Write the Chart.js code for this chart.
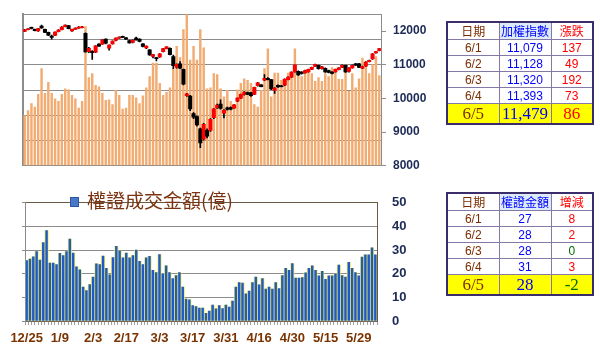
<!DOCTYPE html>
<html lang="zh-Hant">
<head>
<meta charset="UTF-8">
<title>加權指數與權證成交金額</title>
<script src="https://cdn.jsdelivr.net/npm/chart.js@4.4.0/dist/chart.umd.min.js"></script>
<style>
  body { margin:0; background:#fff; }
  #page { position:relative; width:600px; height:353px; overflow:hidden; font-family:"Liberation Sans", Arial, sans-serif; }
  canvas { position:absolute; left:0; }
  #cHaut { top:0; }
  #cBas { top:180px; }
  .tab { position:absolute; left:446px; width:146px; border-collapse:collapse; border:2px solid #3b2d6b; table-layout:fixed; }
  .tab td { border:1px solid #8478a6; padding:0; text-align:center; vertical-align:middle; font-size:12px; line-height:12px; white-space:nowrap; overflow:hidden; }
  .tab tr.tete td { font-family:"Noto Sans CJK TC", sans-serif; font-size:12px; height:16px; }
  .tab tr.ligne td { height:15px; }
  .tab tr.jaune td { background:#ffff00; height:19px; font-family:"Liberation Serif", serif; font-size:17px; line-height:17px; }
  .date { color:#7a2c00; }
  .bleu { color:#0000ff; }
  .rouge { color:#ff0000; }
  .vert { color:#006a00; }
  .fondBleu { background:#dcebf8; }
  #legende { position:absolute; left:70px; top:189px; height:22px; font-family:"Noto Sans CJK TC", sans-serif; font-size:19px; color:#7b3412; line-height:22px; white-space:nowrap; }
  #legende .carre { display:inline-block; width:7px; height:8px; background:#4a78c8; border:1px solid #2c56a4; margin-right:8px; vertical-align:middle; position:relative; top:-1px; }
</style>
</head>
<body>
<div id="page">
  <canvas id="cHaut" width="600" height="180" style="width:600px;height:180px"></canvas>
  <canvas id="cBas" width="600" height="173" style="width:600px;height:173px"></canvas>
  <div id="legende"><span class="carre"></span>權證成交金額(億)</div>
  <table class="tab" id="tab1" style="top:21px"></table>
  <table class="tab" id="tab2" style="top:192px"></table>
</div>

<script>
// trading days 2019/12/25 - 2020/6/5
const dates = ['12/25','12/26','12/27','12/30','12/31',
  '1/2','1/3','1/6','1/7','1/8','1/9','1/10','1/13','1/14','1/15','1/16','1/17','1/20','1/30','1/31',
  '2/3','2/4','2/5','2/6','2/7','2/10','2/11','2/12','2/13','2/14','2/17','2/18','2/19','2/20','2/21','2/24','2/25','2/26','2/27',
  '3/2','3/3','3/4','3/5','3/6','3/9','3/10','3/11','3/12','3/13','3/16','3/17','3/18','3/19','3/20','3/23','3/24','3/25','3/26','3/27','3/30','3/31',
  '4/1','4/6','4/7','4/8','4/9','4/10','4/13','4/14','4/15','4/16','4/17','4/20','4/21','4/22','4/23','4/24','4/27','4/28','4/29','4/30',
  '5/4','5/5','5/6','5/7','5/8','5/11','5/12','5/13','5/14','5/15','5/18','5/19','5/20','5/21','5/22','5/25','5/26','5/27','5/28','5/29',
  '6/1','6/2','6/3','6/4','6/5'];

// 加權指數 K線
const ouverture = [11990,12040,12110,12050,12000,12150,12050,11960,11850,11870,
  11980,12040,12130,12160,12000,12050,12085,12100,11930,11390,
  11400,11370,11610,11610,11760,11490,11620,11720,11790,11840,
  11800,11720,11660,11790,11760,11620,11500,11440,11250,11210,
  11230,11390,11480,11490,11240,10920,11030,10860,10080,10070,
  9550,9460,9100,8790,9050,9050,9430,9720,9830,9560,
  9720,9730,9710,9920,10010,10120,10175,10175,10120,10375,
  10400,10540,10600,10560,10240,10390,10375,10390,10560,10630,
  10785,10805,10785,10760,10785,10860,10950,10985,10880,10895,
  10830,10785,10785,10850,10920,10985,10800,10905,11030,11030,
  10900,10960,11090,11170,11350,11420];
const haut = [12050,12075,12120,12060,12080,12180,12060,11970,11880,11975,
  12040,12130,12185,12170,12060,12095,12130,12140,11950,11520,
  11420,11570,11630,11750,11770,11590,11710,11800,11830,11850,
  11815,11730,11740,11820,11770,11630,11560,11450,11310,11220,
  11330,11490,11540,11500,11290,11030,11090,10870,10150,10090,
  9580,9480,9120,9260,9100,9400,9700,9830,9960,9670,
  9740,9750,9820,10020,10130,10200,10190,10180,10340,10480,
  10410,10710,10620,10570,10320,10400,10390,10580,10640,10790,
  11000,10820,10800,10840,10870,10930,11020,10990,10950,10910,
  10840,10800,10870,10915,10995,10990,10915,10995,11040,11040,
  10960,11090,11140,11330,11400,11490];
const bas = [11980,12030,12065,12000,11990,12080,11950,11860,11760,11860,
  11975,12035,12125,12060,11990,12045,12080,12090,11370,11360,
  11160,11360,11540,11600,11620,11430,11610,11710,11780,11800,
  11750,11640,11650,11730,11680,11530,11480,11280,11200,11110,
  11220,11380,11470,11290,10880,10900,10880,10400,10060,9640,
  9400,9180,8540,8760,8830,9020,9400,9700,9680,9420,
  9650,9660,9700,9900,10000,10100,10110,10060,10110,10360,
  10340,10530,10550,10260,10150,10330,10340,10380,10550,10620,
  10780,10680,10720,10750,10780,10850,10940,10870,10870,10770,
  10760,10730,10780,10845,10915,10770,10780,10900,10975,10910,
  10880,10950,11080,11160,11340,11410];
const cloture = [12035,12065,12075,12010,12075,12090,11960,11880,11810,11970,
  12030,12120,12180,12070,12050,12085,12120,12125,11380,11490,
  11360,11560,11550,11740,11640,11580,11700,11790,11820,11810,
  11760,11650,11730,11740,11690,11540,11550,11290,11300,11180,
  11320,11480,11530,11300,10970,11010,10900,10420,10140,9690,
  9440,9210,8680,9230,8880,9380,9690,9800,9700,9650,
  9670,9680,9810,10010,10120,10190,10120,10080,10330,10465,
  10350,10600,10560,10280,10310,10340,10350,10575,10630,10785,
  10995,10695,10740,10830,10860,10920,11015,10880,10940,10785,
  10770,10740,10860,10905,10985,10785,10905,10985,10985,10920,
  10942,11079,11128,11320,11393,11479];
const prixTicks = [8000, 9000, 10000, 11000, 12000];

// 成交量 (orange bars, hidden left axis)
const volume = [1000,1100,1240,1170,1420,1930,1440,1660,1440,1330,
  1280,1420,1530,1510,1400,1330,1150,1280,2760,1750,
  1830,1600,1570,1440,1300,1310,1220,1500,1400,1130,
  1150,1400,1400,1350,1240,1390,1550,1770,2040,2040,
  1640,1400,1460,1550,1920,2370,2150,2700,3000,2100,
  2370,2100,2700,2340,1530,1550,1830,1810,1530,1370,
  1500,1280,1220,1510,1640,1730,1700,1640,1220,1170,
  1500,1930,2320,1370,1840,1840,1700,1640,1840,1860,
  2320,1840,1770,1840,1880,1830,1680,1750,1680,1830,
  1770,1950,1920,1720,1720,1880,1480,1830,1550,1730,
  2140,1990,1830,2010,2170,1790];

// 權證成交金額 (億)
const warrants = [25.6,26.2,27.1,29.4,25.8,33.2,38.2,24.5,24.5,23.9,
  28.6,27.7,29.4,34.7,28.7,22.9,21.6,14.4,12.9,15.4,
  18.6,24.2,23.9,27.5,22.3,19.5,26.8,31.6,29.6,26.7,
  28.7,26.7,27.7,30.0,25.2,23.9,26.7,27.4,21.4,20.5,
  28.1,19.7,23.3,20.5,17.9,19.2,20.5,14.4,9.3,9.0,
  6.5,6.1,5.5,5.5,3.2,4.2,6.7,5.1,6.5,5.3,
  6.7,5.9,8.4,14.4,16.3,16.0,11.5,12.7,16.3,18.6,
  15.3,17.9,13.5,14.4,13.5,16.3,13.7,19.2,22.3,21.4,
  24.3,18.2,18.2,18.4,20.4,22.3,23.3,21.4,19.1,21.0,
  17.6,19.1,19.1,19.8,23.7,19.2,18.6,24.8,22.3,20.5,
  19.1,27,28,28,31,28];

// tables
const tabDates = ['6/1','6/2','6/3','6/4','6/5'];
const tabIndice = ['11,079','11,128','11,320','11,393','11,479'];
const tabVariation = [137, 49, 192, 73, 86];
const tabWarrants = [27, 28, 28, 31, 28];
const tabWarrantsVar = [8, 2, 0, 3, -2];

let construitTable = (id, titre2, titre3, col2, col3) => {
  let html = '<colgroup><col style="width:52px"><col style="width:52px"><col style="width:42px"></colgroup>';
  html += '<tr class="tete"><td class="date">日期</td><td class="bleu fondBleu">' + titre2 + '</td><td class="rouge">' + titre3 + '</td></tr>';
  tabDates.forEach((d, i) => {
    let classe = (i === tabDates.length - 1) ? 'jaune' : 'ligne';
    let couleur = col3[i] > 0 ? 'rouge' : 'vert';
    html += '<tr class="' + classe + '"><td class="date">' + d + '</td><td class="bleu">' + col2[i] +
      '</td><td class="' + couleur + '">' + col3[i] + '</td></tr>';
  });
  document.querySelector(id).innerHTML = html;
};
construitTable('#tab1', '加權指數', '漲跌', tabIndice, tabVariation);
construitTable('#tab2', '權證金額', '增減', tabWarrants, tabWarrantsVar);

// top chart: candles + volume
let corps = ouverture.map((o, i) => [o, cloture[i]]);
let meches = bas.map((b, i) => [b, haut[i]]);
let couleurs = ouverture.map((o, i) => cloture[i] >= o ? '#ff0000' : '#000000');
const police = 'Liberation Sans, Arial, sans-serif';

new Chart(document.querySelector('#cHaut').getContext('2d'), {
  type: 'bar',
  data: {
    labels: dates,
    datasets: [
      { data: corps, yAxisID: 'yp', backgroundColor: couleurs, grouped: false,
        barPercentage: 1, categoryPercentage: 1, order: 0 },
      { data: meches, yAxisID: 'yp', backgroundColor: '#000000', grouped: false,
        barThickness: 1, order: 1 },
      { data: volume, yAxisID: 'yv', backgroundColor: '#f2ab70', grouped: false,
        barPercentage: 0.72, categoryPercentage: 1, order: 2 }
    ]
  },
  options: {
    responsive: false,
    animation: false,
    layout: { padding: { left: 23, top: 6, right: 0, bottom: 10 } },
    plugins: { legend: { display: false }, tooltip: { enabled: false } },
    scales: {
      x: { grid: { display: false }, ticks: { display: false },
           border: { display: true, color: '#8c8c8c' },
           afterFit: s => { s.height = 0; } },
      yv: { position: 'left', min: 0, max: 3000,
            ticks: { display: false, stepSize: 500 },
            grid: { color: '#8c8c8c', drawTicks: false },
            border: { display: true, color: '#8c8c8c', width: 2 },
            afterFit: s => { s.width = 0; } },
      yp: { position: 'right', min: 8000, max: 12500,
            afterBuildTicks: s => { s.ticks = prixTicks.map(v => ({ value: v })); },
            ticks: { padding: 7, color: '#1c2a56',
                     font: { family: police, size: 12, weight: 'bold' },
                     callback: v => String(v) },
            grid: { drawOnChartArea: false, drawTicks: true, tickLength: 5, color: '#8c8c8c' },
            border: { display: true, color: '#8c8c8c' },
            afterFit: s => { s.width = 219; } }
    }
  }
});

// bottom chart: warrant turnover
new Chart(document.querySelector('#cBas').getContext('2d'), {
  type: 'bar',
  data: {
    labels: dates,
    datasets: [
      { data: warrants, backgroundColor: '#1f5ac8', grouped: false, barThickness: 1.8, order: 0 },
      { data: warrants, backgroundColor: '#f2ec50', grouped: false,
        barPercentage: 1, categoryPercentage: 1, order: 1 }
    ]
  },
  options: {
    responsive: false,
    animation: false,
    layout: { padding: { left: 25, top: 9, right: 0, bottom: 0 } },
    plugins: { legend: { display: false }, tooltip: { enabled: false } },
    scales: {
      x: { ticks: { autoSkip: false, maxRotation: 0, minRotation: 0, padding: 6, color: '#7a3300',
                    font: { family: police, size: 13, weight: 'bold' },
                    callback: (v, i) => i % 10 === 0 ? dates[i] : '' },
           grid: { drawOnChartArea: false, drawTicks: true, tickLength: 4, color: '#a0a0a0' },
           border: { display: true, color: '#7a6a55' },
           afterFit: s => { s.height = 32; } },
      y: { position: 'right', min: 0, max: 50,
           ticks: { stepSize: 10, padding: 15, color: '#1c2a56',
                    font: { family: police, size: 13, weight: 'bold' } },
           grid: { drawTicks: false, color: c => c.tick && c.tick.value === 50 ? '#6b5a45' : '#8c8c8c' },
           border: { display: true, color: '#6b5a45' },
           afterFit: s => { s.width = 223; } },
      yl: { position: 'left', min: 0, max: 50,
            ticks: { display: false, stepSize: 10 },
            grid: { drawOnChartArea: false, drawTicks: true, tickLength: 3, color: '#8c8c8c' },
            border: { display: true, color: '#8c8c8c' },
            afterFit: s => { s.width = 0; } }
    }
  }
});
</script>
</body>
</html>
